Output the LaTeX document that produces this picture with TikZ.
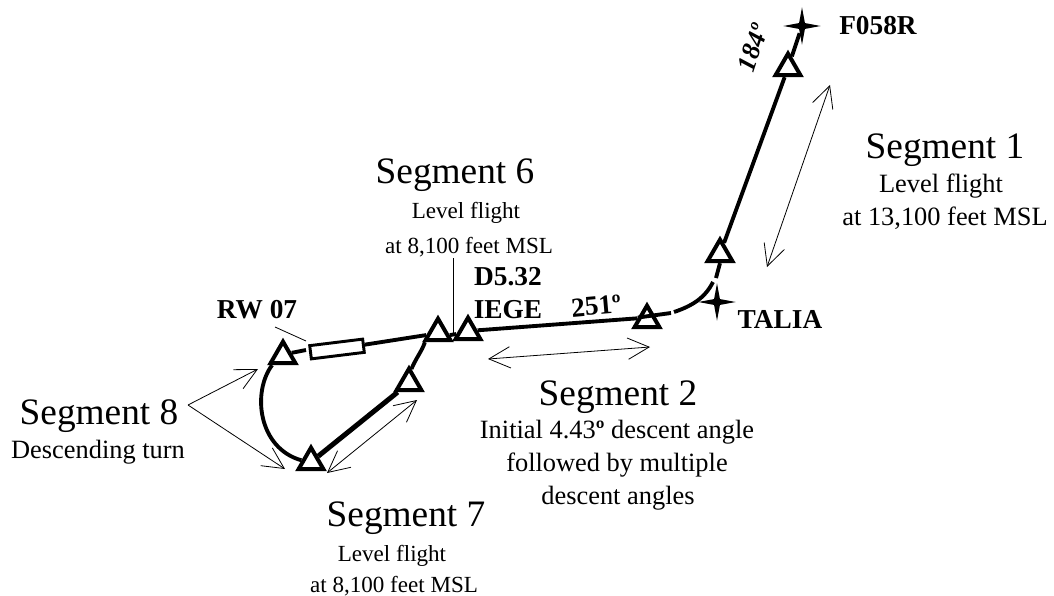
\documentclass[tikz,border=0pt]{standalone}
\usepackage{fontspec}
\setmainfont{Liberation Serif}
\usetikzlibrary{arrows.meta,shapes.geometric}
\tikzset{
    wpt/.style={regular polygon, regular polygon sides=3, draw, fill=white, line width=3pt, inner sep=0pt, minimum size=21.5pt},
    fix/.style={star, star points=4, star point ratio=4.5, fill=black, inner sep=0pt, minimum size=28pt},
    route/.style={line width=2.9pt},
    span/.style={line width=0.6pt, {Straight Barb[length=16pt,width=16pt]}-{Straight Barb[length=16pt,width=16pt]}},
    pointer/.style={line width=0.6pt, -{Straight Barb[length=16pt,width=16pt]}},
    segtitle/.style={anchor=base, inner sep=0pt, font=\fontsize{28}{30}\selectfont},
    segnote/.style={anchor=base, inner sep=0pt, font=\fontsize{19.8}{22}\selectfont},
    lownote/.style={anchor=base, inner sep=0pt, font=\fontsize{17.3}{20}\selectfont},
    fixname/.style={anchor=base, inner sep=0pt, font=\fontsize{20.5}{22}\selectfont\bfseries}
}
\begin{document}
\begin{tikzpicture}[x=0.75pt, y=-0.75pt]
    \useasboundingbox (0,0) rectangle (1054,596);
    % waypoints and fixes
    \foreach \n/\x/\y in {wa/788/68, wb/720/254, wc/647/320, wd/468/332, we/438/333, wf/409/383, wg/311/462, wh/283/356}
        \node[wpt] (\n) at (\x,\y) {};
    \node[fix] (f058r) at (802,26) {};
    \node[fix] (talia) at (717,302) {};
    \node[draw, fill=white, line width=2.2pt, rotate=7, minimum width=40pt, minimum height=10pt, inner sep=0pt] (runway) at (337,349) {};
    % route, with its small gaps
    \coordinate (ga) at (716,278);
    \coordinate (gb) at (674,312);
    \coordinate (gc) at (306,350);
    \coordinate (gd) at (713,282);
    \coordinate (ge) at (671,313);
    \draw[route] (f058r) -- (wa);
    \draw[route] (wa) -- (wb);
    \draw[route] (wb.south) -- (ga);
    \draw[route] (gd) .. controls (705,298) and (692,306) .. (gb);
    \draw[route] (ge) -- (wc.165);
    \draw[route] (wc.170) -- (wd.10);
    \draw[route] (wd.190) -- (we.350);
    \draw[route] (we.190) -- (runway);
    \draw[route] (gc) -- (wh.20);
    \draw[route] (wh.220) .. controls (252,392) and (258,448) .. (wg.170);
    \draw[line width=3.75pt] (wg) -- (wf);
    \draw[route] (wf.80) .. controls (416,358) and (422,351) .. (we.215);
    % arrows
    \coordinate (sa) at (830,85);
    \coordinate (sb) at (767,267);
    \coordinate (sc) at (488,359);
    \coordinate (sd) at (650,347);
    \coordinate (se) at (327,473);
    \coordinate (sf) at (417,400);
    \coordinate (tip) at (188,405);
    \coordinate (pa) at (258,369);
    \coordinate (pb) at (285,469);
    \coordinate (ra) at (275,327);
    \coordinate (rb) at (306,341);
    \coordinate (da) at (453,258);
    \coordinate (db) at (453,336);
    \draw[span] (sa) -- (sb);
    \draw[span] (sc) -- (sd);
    \draw[span] (se) -- (sf);
    \draw[pointer] (tip) -- (pa);
    \draw[pointer] (tip) -- (pb);
    \draw[line width=0.6pt] (ra) -- (rb);
    \draw[line width=0.6pt] (da) -- (db);
    % labels
    \foreach \n/\x/\y/\t in {ta/945/158/{Segment 1}, tb/455/183/{Segment 6}, tc/618/405/{Segment 2}, td/99/424/{Segment 8}, te/406/526/{Segment 7}}
        \node[segtitle] (\n) at (\x,\y) {\t};
    \foreach \n/\x/\y/\t in {na/941/192/{Level flight}, nb/945/225/{at 13,100 feet MSL}, ne/617/438/{Initial 4.43\textbf{º} descent angle}, nf/617/471/{followed by multiple}, ng/618/504/{descent angles}, nh/98/458/{Descending turn}}
        \node[segnote] (\n) at (\x,\y) {\t};
    \foreach \n/\x/\y/\t in {nc/466/218/{Level flight}, nd/469/253/{at 8,100 feet MSL}, ni/392/561/{Level flight}, nj/394/592/{at 8,100 feet MSL}}
        \node[lownote] (\n) at (\x,\y) {\t};
    \foreach \n/\x/\y/\t in {la/878/35/{F058R}, lb/780/328/{TALIA}, lc/257/318/{RW 07}, ld/508/285/{D5.32}, le/508/318/{IEGE}}
        \node[fixname] (\n) at (\x,\y) {\t};
    \node[fixname, rotate=5] (hdga) at (597,315) {251º};
    \node[fixname, anchor=center, rotate=72, font=\fontsize{19.7}{22}\selectfont\bfseries\itshape] (hdgb) at (753,48) {184º};
\end{tikzpicture}
\end{document}
